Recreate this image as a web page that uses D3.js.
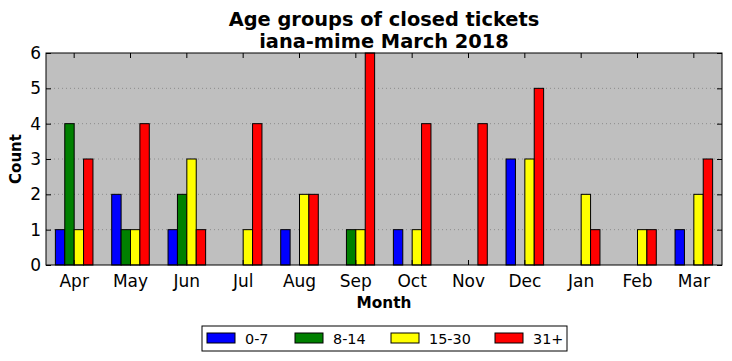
<!DOCTYPE html>
<html>
<head>
<meta charset="utf-8">
<script src="https://cdn.jsdelivr.net/npm/d3@7"></script>
<style>
  body { margin: 0; background: #fff; }
  text { font-family: "DejaVu Sans", sans-serif; }
</style>
</head>
<body>
<div id="chart"></div>
<script>
let months = ["Apr", "May", "Jun", "Jul", "Aug", "Sep", "Oct", "Nov", "Dec", "Jan", "Feb", "Mar"];
let groups = ["0-7", "8-14", "15-30", "31+"];
let colors = ["#0000ff", "#008000", "#ffff00", "#ff0000"];
let age0to7 = [1, 2, 1, 0, 1, 0, 1, 0, 3, 0, 0, 1];
let age8to14 = [4, 1, 2, 0, 0, 1, 0, 0, 0, 0, 0, 0];
let age15to30 = [1, 1, 3, 1, 2, 1, 1, 0, 3, 2, 1, 2];
let age31plus = [3, 4, 1, 4, 2, 6, 4, 4, 5, 1, 1, 3];
let yTicks = [0, 1, 2, 3, 4, 5, 6];

let series = [age0to7, age8to14, age15to30, age31plus];

let width = 732;
let height = 361;
let plot = { left: 46, right: 722, top: 53, bottom: 265 };

let svg = d3.select("#chart")
  .append("svg")
  .attr("width", width)
  .attr("height", height);

/* Scales */
let x = d3.scaleBand()
  .domain(months)
  .range([plot.left, plot.right])
  .paddingInner(0.333)
  .paddingOuter(0.1665);

let xInner = d3.scaleBand()
  .domain(groups)
  .range([0, x.bandwidth()]);

let y = d3.scaleLinear()
  .domain([0, 6])
  .range([plot.bottom, plot.top]);

/* Background */
svg.append("rect")
  .attr("x", plot.left)
  .attr("y", plot.top)
  .attr("width", plot.right - plot.left)
  .attr("height", plot.bottom - plot.top)
  .attr("fill", "#bfbfbf");

/* Grid */
svg.append("g")
  .selectAll("line")
  .data(yTicks.slice(1, -1))
  .enter()
  .append("line")
  .attr("x1", plot.left)
  .attr("x2", plot.right)
  .attr("y1", d => y(d))
  .attr("y2", d => y(d))
  .attr("stroke", "#8c8c8c")
  .attr("stroke-width", 1)
  .attr("stroke-dasharray", "1,3");

/* Bars */
let bars = svg.append("g");
series.forEach((vals, gi) => {
  bars.selectAll(".bar-" + gi)
    .data(vals.map((v, i) => ({ month: months[i], value: v })).filter(d => d.value > 0))
    .enter()
    .append("rect")
    .attr("class", "bar-" + gi)
    .attr("x", d => x(d.month) + xInner(groups[gi]))
    .attr("y", d => y(d.value))
    .attr("width", xInner.bandwidth())
    .attr("height", d => y(0) - y(d.value))
    .attr("fill", colors[gi])
    .attr("stroke", "#000")
    .attr("stroke-width", 1);
});

/* Axes */
let xAxis = d3.axisBottom(x).tickSizeInner(-5).tickSizeOuter(0).tickPadding(10);
let xAxisTop = d3.axisTop(x).tickSizeInner(-5).tickSizeOuter(0).tickFormat("");
let yAxis = d3.axisLeft(y).tickValues(yTicks).tickSizeInner(-5).tickSizeOuter(0).tickPadding(5).tickFormat(d3.format("d"));
let yAxisRight = d3.axisRight(y).tickValues(yTicks).tickSizeInner(-5).tickSizeOuter(0).tickFormat("");

function style(g) {
  g.select(".domain").remove();
  g.selectAll(".tick line").attr("stroke", "#000");
  g.selectAll(".tick text").attr("fill", "#000").style("font-size", "17px");
}

svg.append("g").attr("transform", `translate(0,${plot.bottom})`).call(xAxis).call(style);
svg.append("g").attr("transform", `translate(0,${plot.top})`).call(xAxisTop).call(style);
svg.append("g").attr("transform", `translate(${plot.left},0)`).call(yAxis).call(style);
svg.append("g").attr("transform", `translate(${plot.right},0)`).call(yAxisRight).call(style);

/* Frame */
svg.append("rect")
  .attr("x", plot.left)
  .attr("y", plot.top)
  .attr("width", plot.right - plot.left)
  .attr("height", plot.bottom - plot.top)
  .attr("fill", "none")
  .attr("stroke", "#000")
  .attr("stroke-width", 1);

/* Titles */
let cx = (plot.left + plot.right) / 2;
svg.append("text")
  .attr("x", cx).attr("y", 26)
  .attr("text-anchor", "middle")
  .style("font-size", "19.4px").style("font-weight", "bold")
  .text("Age groups of closed tickets");
svg.append("text")
  .attr("x", cx).attr("y", 48)
  .attr("text-anchor", "middle")
  .style("font-size", "19.4px").style("font-weight", "bold")
  .text("iana-mime March 2018");

svg.append("text")
  .attr("x", cx).attr("y", 308)
  .attr("text-anchor", "middle")
  .style("font-size", "15.3px").style("font-weight", "bold")
  .text("Month");

svg.append("text")
  .attr("transform", `translate(21,${(plot.top + plot.bottom) / 2}) rotate(-90)`)
  .attr("text-anchor", "middle")
  .style("font-size", "15px").style("font-weight", "bold")
  .text("Count");

/* Legend */
let legend = svg.append("g").attr("class", "legend");
legend.append("rect")
  .attr("x", 202).attr("y", 326)
  .attr("width", 365).attr("height", 25)
  .attr("fill", "#fff").attr("stroke", "#000").attr("stroke-width", 1);

let legendX = [207, 295, 391, 495];
let lg = legend.selectAll(".lg")
  .data(groups)
  .enter()
  .append("g")
  .attr("transform", (d, i) => `translate(${legendX[i]},333)`);

lg.append("rect")
  .attr("width", 28).attr("height", 10)
  .attr("fill", (d, i) => colors[i])
  .attr("stroke", "#000").attr("stroke-width", 1);

lg.append("text")
  .attr("x", 38).attr("y", 10.5)
  .style("font-size", "14.4px")
  .text(d => d);
</script>
</body>
</html>
